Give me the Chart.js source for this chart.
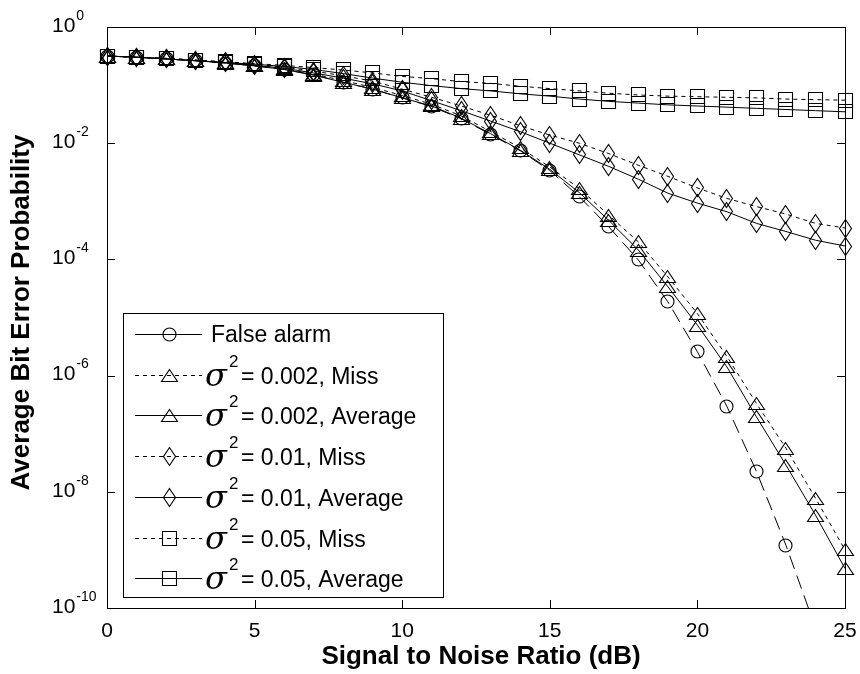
<!DOCTYPE html>
<html>
<head>
<meta charset="utf-8">
<script src="https://cdn.jsdelivr.net/npm/chart.js@4/dist/chart.umd.min.js"></script>
<style>
  html, body { margin: 0; padding: 0; background: #ffffff; }
  #wrap { width: 860px; height: 674px; }
</style>
</head>
<body>
<div id="wrap"><canvas id="berChart" width="860" height="674"></canvas></div>
<script>
// SNR axis (dB)
const snr = [0, 1, 2, 3, 4, 5, 6, 7, 8, 9, 10, 11, 12, 13, 14, 15, 16, 17, 18, 19, 20, 21, 22, 23, 24, 25];

// values
const falseAlarm = [0.316, 0.302, 0.282, 0.263, 0.240, 0.214, 0.186, 0.151, 0.112, 0.0851, 0.0603, 0.0427, 0.0263, 0.0141, 0.00741, 0.00339, 0.00120, 0.000363, 9.77e-5, 1.86e-5, 2.57e-6, 2.95e-7, 2.24e-8, 1.20e-9, 4.57e-11, 1.26e-12];
const miss002 = [0.316, 0.302, 0.288, 0.269, 0.245, 0.219, 0.191, 0.155, 0.120, 0.0912, 0.0661, 0.0468, 0.0295, 0.0158, 0.00832, 0.00389, 0.00166, 0.000575, 0.000200, 5.01e-5, 1.17e-5, 2.14e-6, 3.31e-7, 5.62e-8, 7.76e-9, 1.00e-9];
const avg002 = [0.316, 0.302, 0.282, 0.263, 0.240, 0.214, 0.186, 0.148, 0.112, 0.0851, 0.0603, 0.0437, 0.0269, 0.0145, 0.00759, 0.00355, 0.00141, 0.000468, 0.000145, 3.39e-5, 7.41e-6, 1.41e-6, 1.95e-7, 2.88e-8, 3.98e-9, 4.79e-10];
const miss001 = [0.316, 0.302, 0.288, 0.269, 0.251, 0.229, 0.204, 0.174, 0.145, 0.117, 0.0851, 0.0617, 0.0437, 0.0302, 0.0200, 0.0138, 0.0100, 0.00661, 0.00417, 0.00269, 0.00170, 0.00112, 0.000813, 0.000603, 0.000417, 0.000347];
const avg001 = [0.316, 0.302, 0.282, 0.263, 0.245, 0.219, 0.195, 0.162, 0.132, 0.105, 0.0794, 0.0537, 0.0363, 0.0240, 0.0158, 0.0100, 0.00631, 0.00398, 0.00240, 0.00138, 0.000933, 0.000661, 0.000417, 0.000302, 0.000214, 0.000170];
const miss005 = [0.316, 0.302, 0.288, 0.269, 0.251, 0.234, 0.219, 0.200, 0.182, 0.162, 0.141, 0.129, 0.115, 0.107, 0.0955, 0.0871, 0.0794, 0.0724, 0.0676, 0.0646, 0.0631, 0.0617, 0.0603, 0.0575, 0.0562, 0.0550];
const avg005 = [0.316, 0.302, 0.282, 0.263, 0.245, 0.229, 0.209, 0.186, 0.158, 0.132, 0.112, 0.0977, 0.0871, 0.0794, 0.0708, 0.0646, 0.0575, 0.0525, 0.0490, 0.0457, 0.0437, 0.0417, 0.0398, 0.0380, 0.0363, 0.0347];

// ticks
const xTicks = [0, 5, 10, 15, 20, 25];
const yTicks = [1, 1e-2, 1e-4, 1e-6, 1e-8, 1e-10];
const yTickExp = ["0", "-2", "-4", "-6", "-8", "-10"];

// legend texts: sigma^2 value + rest
const legendSigma = [null, "2", "2", "2", "2", "2", "2"];
const legendText = ["False alarm", "= 0.002, Miss", "= 0.002, Average", "= 0.01, Miss", "= 0.01, Average", "= 0.05, Miss", "= 0.05, Average"];

const FONT = '"Liberation Sans", Arial, sans-serif';

// hollow MATLAB-ish markers drawn on small canvases
function makeMarker(kind) {
    const c = document.createElement("canvas");
    let w, h;
    if (kind === "circle") { w = 17; h = 17; }
    else if (kind === "triangle") { w = 19; h = 15; }
    else if (kind === "diamond") { w = 15; h = 21; }
    else { w = 17; h = 17; }
    c.width = w; c.height = h;
    const g = c.getContext("2d");
    g.strokeStyle = "#000";
    g.lineWidth = 1.1;
    g.beginPath();
    if (kind === "circle") {
        g.arc(8.5, 8.5, 6.5, 0, Math.PI * 2);
    } else if (kind === "triangle") {
        g.moveTo(9.5, 1.5); g.lineTo(17.5, 13.5); g.lineTo(1.5, 13.5); g.closePath();
    } else if (kind === "diamond") {
        g.moveTo(7.5, 1.5); g.lineTo(13.5, 10.5); g.lineTo(7.5, 19.5); g.lineTo(1.5, 10.5); g.closePath();
    } else {
        g.rect(1.5, 1.5, 14, 14);
    }
    g.stroke();
    return c;
}

const mk = {
    circle: makeMarker("circle"),
    triangle: makeMarker("triangle"),
    diamond: makeMarker("diamond"),
    square: makeMarker("square"),
};

const DOT = [4, 4];
const LONG = [14, 7];

const series = [
    { data: falseAlarm, marker: mk.circle, dash: LONG, legendDash: [] },
    { data: miss002, marker: mk.triangle, dash: DOT, legendDash: DOT },
    { data: avg002, marker: mk.triangle, dash: [], legendDash: [] },
    { data: miss001, marker: mk.diamond, dash: DOT, legendDash: DOT },
    { data: avg001, marker: mk.diamond, dash: [], legendDash: [] },
    { data: miss005, marker: mk.square, dash: DOT, legendDash: DOT },
    { data: avg005, marker: mk.square, dash: [], legendDash: [] },
];

// markers: put the images on whole pixels at the points chart.js computed
const crispMarkers = {
    id: "crispMarkers",
    afterDatasetsDraw(chart) {
        const ctx = chart.ctx;
        const a = chart.chartArea;
        series.forEach((s, i) => {
            const meta = chart.getDatasetMeta(i);
            const m = s.marker;
            meta.data.forEach((pt) => {
                if (pt.y > a.bottom + 1 || pt.y < a.top - 1) return;
                ctx.drawImage(m, Math.round(pt.x - m.width / 2), Math.round(pt.y - m.height / 2));
            });
        });
    },
};

const matlabAxes = {
    id: "matlabAxes",
    afterDraw(chart) {
        const ctx = chart.ctx;
        const a = chart.chartArea;
        const xs = chart.scales.x;
        const ys = chart.scales.y;
        ctx.save();
        ctx.strokeStyle = "#000";
        ctx.fillStyle = "#000";
        ctx.lineWidth = 1;

        // box
        ctx.strokeRect(Math.round(a.left) + 0.5, Math.round(a.top) + 0.5, Math.round(a.right - a.left), Math.round(a.bottom - a.top));

        // inward ticks
        const tl = 8;
        ctx.beginPath();
        xTicks.forEach((v) => {
            const px = Math.round(xs.getPixelForValue(v)) + 0.5;
            ctx.moveTo(px, a.bottom); ctx.lineTo(px, a.bottom - tl);
            ctx.moveTo(px, a.top); ctx.lineTo(px, a.top + tl);
        });
        yTicks.forEach((v) => {
            const py = Math.round(ys.getPixelForValue(v)) + 0.5;
            ctx.moveTo(a.left, py); ctx.lineTo(a.left + tl, py);
            ctx.moveTo(a.right, py); ctx.lineTo(a.right - tl, py);
        });
        ctx.stroke();

        // x tick labels
        ctx.font = "21px " + FONT;
        ctx.textAlign = "center";
        ctx.textBaseline = "middle";
        xTicks.forEach((v) => {
            ctx.fillText(String(v), xs.getPixelForValue(v), a.bottom + 23);
        });

        // y tick labels 10^n
        yTicks.forEach((v, i) => {
            const py = ys.getPixelForValue(v);
            ctx.textAlign = "left";
            ctx.font = "21px " + FONT;
            ctx.fillText("10", 52, py - 1);
            const bw = ctx.measureText("10").width;
            ctx.font = "14px " + FONT;
            ctx.fillText(yTickExp[i], 52 + bw + 1, py - 11);
        });

        // axis titles
        ctx.font = "bold 26px " + FONT;
        ctx.textAlign = "center";
        ctx.fillText("Signal to Noise Ratio (dB)", (a.left + a.right) / 2 + 5, 657);
        ctx.save();
        ctx.translate(22, (a.top + a.bottom) / 2 - 5);
        ctx.rotate(-Math.PI / 2);
        ctx.fillText("Average Bit Error Probability", 0, 0);
        ctx.restore();

        // legend
        const lx = 123, ly = 313, lw = 320, lh = 284;
        ctx.fillStyle = "#fff";
        ctx.fillRect(lx, ly, lw, lh);
        ctx.strokeRect(lx + 0.5, ly + 0.5, lw, lh);
        ctx.fillStyle = "#000";
        series.forEach((s, i) => {
            const cy = Math.round(334 + i * 40.7) + 0.5;
            ctx.beginPath();
            ctx.setLineDash(s.legendDash);
            ctx.moveTo(135, cy); ctx.lineTo(202, cy);
            ctx.stroke();
            ctx.setLineDash([]);
            const m = s.marker;
            ctx.drawImage(m, Math.round(169 - m.width / 2), Math.round(cy - m.height / 2));
            ctx.textAlign = "left";
            ctx.textBaseline = "middle";
            if (legendSigma[i]) {
                ctx.font = "italic 32px \"DejaVu Serif\", serif";
                ctx.fillText("\u03c3", 205, cy + 2);
                ctx.font = "17px " + FONT;
                ctx.fillText(legendSigma[i], 229, cy - 13);
                ctx.font = "23px " + FONT;
                ctx.fillText(legendText[i], 241, cy + 2);
            } else {
                ctx.font = "23px " + FONT;
                ctx.fillText(legendText[i], 211, cy + 1);
            }
        });
        ctx.restore();
    },
};

const ctx = document.getElementById("berChart").getContext("2d");

new Chart(ctx, {
    type: "line",
    data: {
        datasets: series.map((s) => ({
            data: snr.map((x, i) => ({ x: x, y: s.data[i] })),
            borderColor: "#000",
            borderWidth: 1,
            borderDash: s.dash,
            pointRadius: 0,
            pointHoverRadius: 0,
            tension: 0,
            fill: false,
            clip: { left: 12, right: 12, top: 12, bottom: 0 },
        })),
    },
    options: {
        responsive: false,
        animation: false,
        events: [],
        layout: { padding: { top: 27, right: 15, left: 0, bottom: 0 } },
        plugins: {
            legend: { display: false },
            tooltip: { enabled: false },
        },
        scales: {
            x: {
                type: "linear",
                min: 0,
                max: 25,
                grid: { display: false },
                border: { display: false },
                ticks: { display: false },
                afterFit: (scale) => { scale.height = 66; },
            },
            y: {
                type: "logarithmic",
                min: 1e-10,
                max: 1,
                grid: { display: false },
                border: { display: false },
                ticks: { display: false },
                afterFit: (scale) => { scale.width = 107; },
            },
        },
    },
    plugins: [crispMarkers, matlabAxes],
});
</script>
</body>
</html>
